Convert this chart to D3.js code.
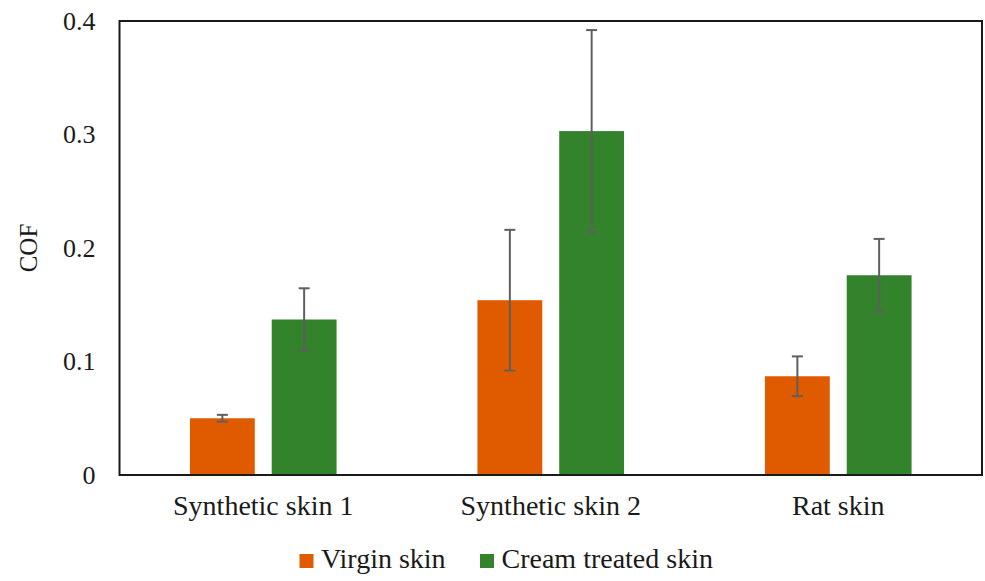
<!DOCTYPE html>
<html>
<head>
<meta charset="utf-8">
<script src="https://cdn.jsdelivr.net/npm/d3@7/dist/d3.min.js"></script>
<style>
  html, body { margin: 0; padding: 0; background: #fff; }
  svg, svg text { font-family: 'Liberation Serif', 'Times New Roman', serif !important; }
  svg { display: block; }
</style>
</head>
<body>
<svg id="chart" width="985" height="581"></svg>
<script>
// Coefficient of friction per skin type
const categories = ["Synthetic skin 1", "Synthetic skin 2", "Rat skin"];
const seriesNames = ["Virgin skin", "Cream treated skin"];
const virginValues = [0.050, 0.154, 0.087];
const virginErrors = [0.003, 0.062, 0.0175];
const creamValues = [0.137, 0.303, 0.176];
const creamErrors = [0.0275, 0.089, 0.032];
const yTicks = [0, 0.1, 0.2, 0.3, 0.4];
const colors = ["#E05A00", "#33822C"];

const rows = categories.map((c, i) => ({
  category: c,
  bars: [
    { series: seriesNames[0], value: virginValues[i], err: virginErrors[i] },
    { series: seriesNames[1], value: creamValues[i], err: creamErrors[i] }
  ]
}));

const svg = d3.select("#chart");
const margin = { left: 119.5, right: 3, top: 21, bottom: 106 };
const W = 985, H = 581;
const plotL = margin.left, plotR = W - margin.right;
const plotT = margin.top, plotB = H - margin.bottom;

const x0 = d3.scaleBand().domain(categories).range([plotL, plotR]).padding(0);
const bw = x0.bandwidth();
const x1 = d3.scaleBand().domain(seriesNames)
  .range([bw * 0.245, bw * 0.755]).paddingInner(0.207).paddingOuter(0);
const y = d3.scaleLinear().domain([0, 0.4]).range([plotB, plotT]);
const color = d3.scaleOrdinal().domain(seriesNames).range(colors);

// Bars
const groups = svg.append("g").selectAll("g").data(rows).join("g")
  .attr("transform", d => `translate(${x0(d.category)},0)`);

groups.selectAll("rect").data(d => d.bars).join("rect")
  .attr("x", d => x1(d.series))
  .attr("y", d => y(d.value))
  .attr("width", x1.bandwidth())
  .attr("height", d => y(0) - y(d.value))
  .attr("fill", d => color(d.series));

// Error bars
const eb = groups.selectAll("g.err").data(d => d.bars).join("g").attr("class", "err")
  .attr("stroke", "#5f5f5f").attr("stroke-width", 2);
const cx = d => x1(d.series) + x1.bandwidth() / 2;
eb.append("line")
  .attr("x1", cx).attr("x2", cx)
  .attr("y1", d => y(d.value + d.err)).attr("y2", d => y(d.value - d.err));
eb.append("line")
  .attr("x1", d => cx(d) - 5.5).attr("x2", d => cx(d) + 5.5)
  .attr("y1", d => y(d.value + d.err)).attr("y2", d => y(d.value + d.err));
eb.append("line")
  .attr("x1", d => cx(d) - 5.5).attr("x2", d => cx(d) + 5.5)
  .attr("y1", d => y(d.value - d.err)).attr("y2", d => y(d.value - d.err));

// Plot frame
svg.append("rect")
  .attr("x", plotL).attr("y", plotT)
  .attr("width", plotR - plotL).attr("height", plotB - plotT)
  .attr("fill", "none").attr("stroke", "#1a1a1a").attr("stroke-width", 2);

// Y axis labels
const yAxis = d3.axisLeft(y).tickValues(yTicks)
  .tickFormat(d => d === 0 ? "0" : d3.format(".1f")(d))
  .tickSize(0).tickPadding(24);
const ya = svg.append("g").attr("transform", `translate(${plotL},0)`).call(yAxis)
  .attr("font-family", null);
ya.select(".domain").remove();
ya.selectAll("text").attr("font-size", 26).attr("fill", "#1a1a1a");

// X axis labels
const xAxis = d3.axisBottom(x0).tickSize(0).tickPadding(20);
const xa = svg.append("g").attr("transform", `translate(0,${plotB})`).call(xAxis)
  .attr("font-family", null);
xa.select(".domain").remove();
xa.selectAll("text").attr("font-size", 28).attr("fill", "#1a1a1a");

// Y title
svg.append("text")
  .attr("transform", `translate(37,${(plotT + plotB) / 2}) rotate(-90)`)
  .attr("text-anchor", "middle")
  .attr("font-size", 25).attr("fill", "#1a1a1a")
  .text("COF");

// Legend
const legendX = [299.5, 480];
const leg = svg.append("g").selectAll("g").data(seriesNames).join("g")
  .attr("transform", (d, i) => `translate(${legendX[i]},554)`);
leg.append("rect").attr("width", 14).attr("height", 14).attr("fill", d => color(d));
leg.append("text").attr("x", 21.5).attr("y", 14).attr("font-size", 28)
  .attr("fill", "#1a1a1a").text(d => d);
</script>
</body>
</html>
